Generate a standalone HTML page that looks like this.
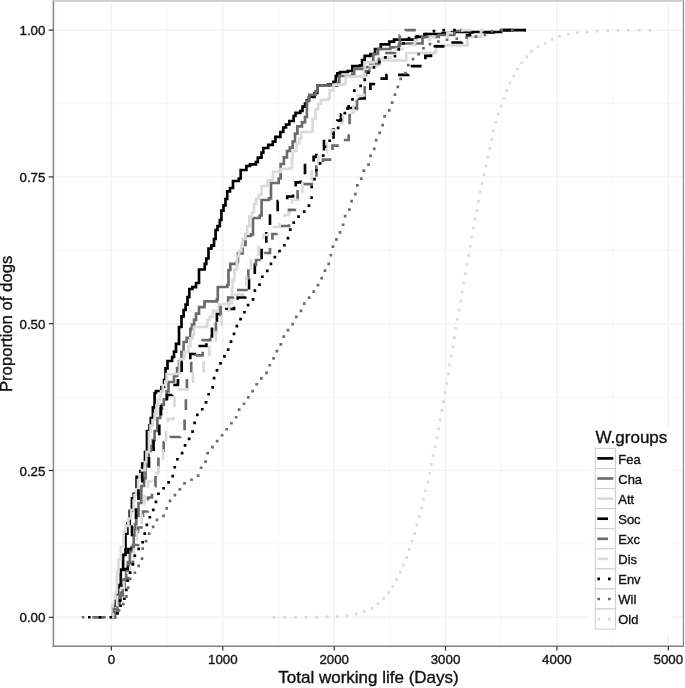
<!DOCTYPE html>
<html lang="en"><head><meta charset="utf-8"><title>Total working life ECDF</title>
<style>html,body{margin:0;padding:0;background:#fff}body{width:685px;height:688px;overflow:hidden}svg{display:block}</style>
</head><body>
<svg width="685" height="688" viewBox="0 0 685 688" font-family="'Liberation Sans', Arial, Helvetica, sans-serif"><style>text{stroke:#111;stroke-width:0.35px}</style>
<rect x="0" y="0" width="685" height="688" fill="#ffffff"/>
<g><line x1="55.7" x2="55.7" y1="0.9" y2="646.3" stroke="#f9f9f9" stroke-width="1.4"/><line x1="167.1" x2="167.1" y1="0.9" y2="646.3" stroke="#f9f9f9" stroke-width="1.4"/><line x1="278.5" x2="278.5" y1="0.9" y2="646.3" stroke="#f9f9f9" stroke-width="1.4"/><line x1="389.9" x2="389.9" y1="0.9" y2="646.3" stroke="#f9f9f9" stroke-width="1.4"/><line x1="501.2" x2="501.2" y1="0.9" y2="646.3" stroke="#f9f9f9" stroke-width="1.4"/><line x1="612.6" x2="612.6" y1="0.9" y2="646.3" stroke="#f9f9f9" stroke-width="1.4"/><line x1="53.4" x2="683.3" y1="543.9" y2="543.9" stroke="#f9f9f9" stroke-width="1.4"/><line x1="53.4" x2="683.3" y1="397.1" y2="397.1" stroke="#f9f9f9" stroke-width="1.4"/><line x1="53.4" x2="683.3" y1="250.3" y2="250.3" stroke="#f9f9f9" stroke-width="1.4"/><line x1="53.4" x2="683.3" y1="103.5" y2="103.5" stroke="#f9f9f9" stroke-width="1.4"/><line x1="111.4" x2="111.4" y1="0.9" y2="646.3" stroke="#f2f2f2" stroke-width="1.4"/><line x1="222.8" x2="222.8" y1="0.9" y2="646.3" stroke="#f2f2f2" stroke-width="1.4"/><line x1="334.2" x2="334.2" y1="0.9" y2="646.3" stroke="#f2f2f2" stroke-width="1.4"/><line x1="445.5" x2="445.5" y1="0.9" y2="646.3" stroke="#f2f2f2" stroke-width="1.4"/><line x1="556.9" x2="556.9" y1="0.9" y2="646.3" stroke="#f2f2f2" stroke-width="1.4"/><line x1="668.3" x2="668.3" y1="0.9" y2="646.3" stroke="#f2f2f2" stroke-width="1.4"/><line x1="53.4" x2="683.3" y1="617.3" y2="617.3" stroke="#f2f2f2" stroke-width="1.4"/><line x1="53.4" x2="683.3" y1="470.5" y2="470.5" stroke="#f2f2f2" stroke-width="1.4"/><line x1="53.4" x2="683.3" y1="323.7" y2="323.7" stroke="#f2f2f2" stroke-width="1.4"/><line x1="53.4" x2="683.3" y1="176.9" y2="176.9" stroke="#f2f2f2" stroke-width="1.4"/><line x1="53.4" x2="683.3" y1="30.1" y2="30.1" stroke="#f2f2f2" stroke-width="1.4"/></g>
<path d="M110.0 617.3L112.0 617.3L112.0 617.3L113.2 617.3L113.2 605.7L115.8 605.7L115.8 598.3L118.0 598.3L118.0 585.0L120.8 585.0L120.8 569.7L123.1 569.7L123.1 554.9L125.5 554.9L125.5 533.6L127.4 533.6L127.4 523.7L129.7 523.7L129.7 510.9L131.9 510.9L131.9 498.4L133.7 498.4L133.7 493.8L136.6 493.8L136.6 476.8L140.4 476.8L140.4 471.0L142.2 471.0L142.2 463.7L145.0 463.7L145.0 452.0L147.0 452.0L147.0 431.0L149.5 431.0L149.5 425.3L150.8 425.3L150.8 418.0L152.9 418.0L152.9 407.3L154.6 407.3L154.6 393.0L156.0 393.0L156.0 391.0L161.5 391.0L161.5 387.0L164.0 387.0L164.0 380.0L165.5 380.0L165.5 368.4L167.5 368.4L167.5 361.0L172.1 361.0L172.1 357.0L174.0 357.0L174.0 351.6L176.0 351.6L176.0 343.8L179.0 343.8L179.0 327.0L181.5 327.0L181.5 316.3L183.6 316.3L183.6 310.0L185.6 310.0L185.6 304.6L187.5 304.6L187.5 297.1L189.3 297.1L189.3 289.0L192.4 289.0L192.4 287.1L196.0 287.1L196.0 283.0L199.0 283.0L199.0 269.5L204.7 269.5L204.7 263.8L206.3 263.8L206.3 258.5L208.5 258.5L208.5 248.7L211.4 248.7L211.4 245.7L214.0 245.7L214.0 239.0L215.6 239.0L215.6 230.0L217.5 230.0L217.5 226.2L219.8 226.2L219.8 220.0L221.4 220.0L221.4 210.6L223.5 210.6L223.5 205.3L225.5 205.3L225.5 199.0L227.2 199.0L227.2 191.4L230.0 191.4L230.0 188.0L233.0 188.0L233.0 181.0L238.8 181.0L238.8 178.5L240.7 178.5L240.7 170.0L246.4 170.0L246.4 166.0L250.0 166.0L250.0 164.4L255.9 164.4L255.9 162.0L257.8 162.0L257.8 157.6L261.5 157.6L261.5 152.6L263.3 152.6L263.3 148.0L268.2 148.0L268.2 144.8L272.8 144.8L272.8 141.6L275.4 141.6L275.4 136.8L280.4 136.8L280.4 132.0L283.3 132.0L283.3 127.5L286.0 127.5L286.0 124.5L289.3 124.5L289.3 121.0L293.6 121.0L293.6 116.0L295.5 116.0L295.5 112.8L300.3 112.8L300.3 111.0L302.5 111.0L302.5 106.7L305.0 106.7L305.0 103.6L306.8 103.6L306.8 100.3L308.8 100.3L308.8 97.0L314.5 97.0L314.5 93.0L317.4 93.0L317.4 85.6L328.1 85.6L328.1 84.6L333.5 84.6L333.5 81.8L335.8 81.8L335.8 76.2L337.3 76.2L337.3 73.3L340.0 73.3L340.0 72.0L347.6 72.0L347.6 71.0L352.3 71.0L352.3 66.2L360.0 66.2L360.0 65.3L362.1 65.3L362.1 60.2L364.7 60.2L364.7 55.8L370.4 55.8L370.4 54.0L375.0 54.0L375.0 49.0L380.8 49.0L380.8 44.4L389.3 44.4L389.3 41.6L394.0 41.6L394.0 39.7L404.5 39.7L404.5 39.7L416.0 39.7L416.0 36.8L424.4 36.8L424.4 34.0L442.5 34.0L442.5 33.0L452.0 33.0L452.0 32.0L470.0 32.0L470.0 32.0L497.0 32.0L497.0 32.0L501.0 32.0L501.0 30.1L526.0 30.1L526.0 30.1" fill="none" stroke="#000000" stroke-width="2.67" stroke-linejoin="miter" stroke-linecap="butt"/>
<path d="M111.0 617.3L113.0 617.3L113.0 617.3L115.0 617.3L115.0 612.0L117.4 612.0L117.4 604.1L119.5 604.1L119.5 599.8L120.8 599.8L120.8 592.5L122.7 592.5L122.7 587.0L124.6 587.0L124.6 579.0L126.2 579.0L126.2 571.6L128.0 571.6L128.0 562.0L129.9 562.0L129.9 551.1L131.5 551.1L131.5 547.0L133.7 547.0L133.7 535.3L135.0 535.3L135.0 524.0L136.3 524.0L136.3 515.9L138.5 515.9L138.5 503.0L141.3 503.0L141.3 486.0L144.1 486.0L144.1 478.5L145.5 478.5L145.5 465.9L147.0 465.9L147.0 456.0L148.6 456.0L148.6 450.8L150.8 450.8L150.8 446.4L152.8 446.4L152.8 440.1L154.6 440.1L154.6 431.0L157.4 431.0L157.4 418.0L160.2 418.0L160.2 408.6L162.0 408.6L162.0 404.7L163.9 404.7L163.9 399.4L166.6 399.4L166.6 391.4L168.5 391.4L168.5 382.0L174.0 382.0L174.0 376.0L177.1 376.0L177.1 368.2L179.0 368.2L179.0 361.0L181.4 361.0L181.4 351.9L183.6 351.9L183.6 342.0L186.7 342.0L186.7 337.8L190.3 337.8L190.3 328.8L192.0 328.8L192.0 324.6L194.1 324.6L194.1 319.9L196.0 319.9L196.0 313.6L199.0 313.6L199.0 307.2L204.5 307.2L204.5 301.3L216.9 301.3L216.9 299.4L217.8 299.4L217.8 287.0L227.3 287.0L227.3 285.0L228.5 285.0L228.5 270.0L230.3 270.0L230.3 263.8L236.9 263.8L236.9 262.0L237.9 262.0L237.9 253.4L242.6 253.4L242.6 244.9L245.5 244.9L245.5 236.0L251.0 236.0L251.0 234.4L253.0 234.4L253.0 218.0L259.7 218.0L259.7 215.5L261.6 215.5L261.6 200.0L269.0 200.0L269.0 198.4L271.0 198.4L271.0 183.0L278.7 183.0L278.7 178.5L280.6 178.5L280.6 164.0L283.9 164.0L283.9 157.3L287.0 157.3L287.0 151.0L289.8 151.0L289.8 147.7L292.7 147.7L292.7 141.6L295.0 141.6L295.0 133.7L297.4 133.7L297.4 126.4L302.0 126.4L302.0 122.3L305.0 122.3L305.0 117.0L306.9 117.0L306.9 100.8L309.3 100.8L309.3 94.8L315.5 94.8L315.5 91.3L317.4 91.3L317.4 85.6L337.3 85.6L337.3 82.8L339.2 82.8L339.2 76.0L352.3 76.0L352.3 73.8L354.2 73.8L354.2 69.0L363.7 69.0L363.7 67.2L370.4 67.2L370.4 63.4L373.2 63.4L373.2 54.0L378.0 54.0L378.0 49.0L390.3 49.0L390.3 47.3L398.8 47.3L398.8 45.4L400.0 45.4L400.0 43.5L421.6 43.5L421.6 43.5L422.5 43.5L422.5 36.8L438.7 36.8L438.7 35.0L453.9 35.0L453.9 34.0L454.5 34.0L454.5 31.0L461.4 31.0L461.4 30.1L462.5 30.1L462.5 30.1" fill="none" stroke="#6b6b6b" stroke-width="2.67" stroke-linejoin="miter" stroke-linecap="butt"/>
<path d="M110.0 617.3L112.0 617.3L112.0 617.3L113.0 617.3L113.0 604.0L115.2 604.0L115.2 592.5L117.0 592.5L117.0 571.6L118.4 571.6L118.4 559.5L120.8 559.5L120.8 547.0L123.6 547.0L123.6 531.7L125.8 531.7L125.8 525.9L128.4 525.9L128.4 518.5L131.0 518.5L131.0 510.0L133.6 510.0L133.6 500.5L134.5 500.5L134.5 495.0L136.3 495.0L136.3 489.3L138.0 489.3L138.0 480.0L139.5 480.0L139.5 474.3L142.0 474.3L142.0 470.0L144.9 470.0L144.9 462.0L146.5 462.0L146.5 452.0L149.0 452.0L149.0 432.0L150.5 432.0L150.5 425.5L152.5 425.5L152.5 420.0L154.6 420.0L154.6 413.9L156.5 413.9L156.5 405.0L158.0 405.0L158.0 399.5L160.0 399.5L160.0 396.0L161.0 396.0L161.0 391.4L162.8 391.4L162.8 385.0L165.3 385.0L165.3 381.5L166.6 381.5L166.6 374.0L179.0 374.0L179.0 373.4L179.8 373.4L179.8 359.0L184.3 359.0L184.3 352.1L188.4 352.1L188.4 346.0L190.4 346.0L190.4 338.4L192.5 338.4L192.5 334.8L194.0 334.8L194.0 327.0L206.4 327.0L206.4 326.0L207.4 326.0L207.4 320.0L209.8 320.0L209.8 316.8L213.0 316.8L213.0 310.8L218.7 310.8L218.7 304.0L229.0 304.0L229.0 303.0L232.0 303.0L232.0 289.0L232.6 289.0L232.6 280.0L234.3 280.0L234.3 269.6L237.0 269.6L237.0 256.0L239.1 256.0L239.1 251.1L241.3 251.1L241.3 246.5L242.6 246.5L242.6 239.0L245.5 239.0L245.5 233.5L247.3 233.5L247.3 226.2L249.3 226.2L249.3 216.4L252.1 216.4L252.1 212.0L254.0 212.0L254.0 204.0L256.1 204.0L256.1 198.8L258.7 198.8L258.7 194.6L261.6 194.6L261.6 186.0L267.5 186.0L267.5 180.4L273.0 180.4L273.0 171.8L280.6 171.8L280.6 169.0L290.0 169.0L290.0 168.0L292.0 168.0L292.0 157.6L292.7 157.6L292.7 151.0L296.5 151.0L296.5 143.5L299.3 143.5L299.3 138.5L301.2 138.5L301.2 132.0L311.7 132.0L311.7 131.0L312.6 131.0L312.6 118.8L315.5 118.8L315.5 109.3L318.1 109.3L318.1 103.8L321.0 103.8L321.0 99.8L328.7 99.8L328.7 98.0L329.7 98.0L329.7 90.4L333.5 90.4L333.5 84.7L343.9 84.7L343.9 83.7L345.7 83.7L345.7 76.7L362.8 76.7L362.8 75.7L364.7 75.7L364.7 62.4L377.0 62.4L377.0 60.5L405.5 60.5L405.5 60.5L406.4 60.5L406.4 53.0L434.9 53.0L434.9 52.0L435.8 52.0L435.8 45.4L466.2 45.4L466.2 45.4L467.5 45.4L467.5 36.8L480.0 36.8L480.0 36.8L481.0 36.8L481.0 30.1L484.0 30.1L484.0 30.1" fill="none" stroke="#dadada" stroke-width="2.67" stroke-linejoin="miter" stroke-linecap="butt"/>
<path d="M111.0 617.3L112.0 617.3L112.0 617.3L113.0 617.3L113.0 612.6L116.0 612.6L116.0 608.0L116.0 601.0L120.0 601.0L120.0 594.0L120.0 586.0L124.0 586.0L124.0 578.0L124.0 569.0L128.0 569.0L128.0 560.0L128.0 549.0L132.0 549.0L132.0 538.0L132.0 526.5L136.0 526.5L136.0 515.0L136.0 506.0L138.5 506.0L138.5 497.0L138.5 487.5L142.3 487.5L142.3 478.0L142.3 470.0L149.0 470.0L149.0 462.0L149.0 454.0L153.6 454.0L153.6 446.0L153.6 437.5L159.3 437.5L159.3 429.0L159.3 419.5L161.0 419.5L161.0 410.0L161.0 402.5L167.0 402.5L167.0 395.0L172.2 395.0L172.2 385.0L177.4 385.0L177.4 384.5L178.0 384.5L178.0 384.0L178.0 374.5L181.7 374.5L181.7 365.0L181.7 359.5L190.3 359.5L190.3 354.0L194.6 354.0L194.6 346.0L198.8 346.0L202.6 346.0L202.6 346.0L206.4 346.0L206.4 343.0L206.4 343.0L206.4 340.0L206.4 336.5L212.0 336.5L212.0 333.0L212.0 326.0L216.9 326.0L216.9 319.0L216.9 314.0L226.3 314.0L226.3 309.0L230.2 309.0L230.2 309.0L234.0 309.0L234.0 303.2L237.7 303.2L237.7 297.5L241.5 297.5L241.5 297.5L245.3 297.5L245.3 290.2L249.0 290.2L249.0 283.0L249.0 277.2L254.8 277.2L254.8 271.5L254.8 262.2L261.6 262.2L261.6 253.0L261.6 244.8L266.3 244.8L266.3 236.7L266.3 228.2L270.0 228.2L270.0 219.7L270.0 212.8L277.7 212.8L277.7 206.0L277.7 201.2L287.2 201.2L287.2 196.5L290.1 196.5L290.1 196.5L293.0 196.5L293.0 189.4L295.7 189.4L295.7 182.3L298.1 182.3L298.1 182.3L300.5 182.3L300.5 176.2L305.0 176.2L305.0 170.0L305.0 163.4L313.6 163.4L313.6 156.8L315.0 156.8L315.0 156.8L316.4 156.8L316.4 151.9L324.0 151.9L324.0 147.0L324.0 139.5L333.5 139.5L333.5 132.0L333.5 126.3L337.3 126.3L337.3 120.7L339.1 120.7L339.1 120.7L341.0 120.7L341.0 114.3L347.6 114.3L347.6 108.0L351.3 108.0L351.3 108.0L355.0 108.0L355.0 103.2L359.0 103.2L359.0 98.5L361.9 98.5L361.9 98.5L364.7 98.5L364.7 91.2L370.4 91.2L370.4 84.0L376.0 84.0L376.0 78.6L381.7 78.6L384.1 78.6L384.1 78.6L386.5 78.6L386.5 76.8L386.5 76.8L386.5 75.0L392.6 75.0L392.6 74.8L398.8 74.8L403.6 74.8L403.6 74.8L408.3 74.8L408.3 70.5L412.0 70.5L412.0 66.2L416.8 66.2L416.8 66.2L421.6 66.2L421.6 61.0L425.4 61.0L425.4 55.8L428.2 55.8L428.2 55.8L431.0 55.8L431.0 51.0L434.9 51.0L434.9 46.3L439.1 46.3L439.1 46.3L443.4 46.3L447.7 46.3L447.7 42.5L452.0 42.5L454.4 42.5L454.4 42.5L456.7 42.5L461.9 42.5L461.9 37.8L467.0 37.8L467.0 35.1L470.0 35.1L470.0 32.5L483.5 32.5L483.5 32.5L497.0 32.5L498.5 32.5L498.5 30.1L500.0 30.1L513.0 30.1L513.0 30.1L526.0 30.1" fill="none" stroke="#000000" stroke-width="2.67" stroke-linejoin="miter" stroke-linecap="butt" stroke-dasharray="10.7 10.7" stroke-dashoffset="5.05"/>
<path d="M93.4 617.3L103.2 617.3L103.2 617.3L113.0 617.3L113.0 616.1L114.0 616.1L114.0 615.0L114.0 609.0L118.0 609.0L118.0 603.0L118.0 595.5L123.0 595.5L123.0 588.0L123.0 580.0L128.0 580.0L128.0 572.0L128.0 563.5L133.0 563.5L133.0 555.0L133.0 545.0L138.0 545.0L138.0 535.0L138.0 527.5L143.0 527.5L143.0 520.0L143.0 511.5L148.0 511.5L148.0 503.0L148.0 497.5L152.0 497.5L152.0 492.0L152.0 486.5L155.5 486.5L155.5 481.0L155.5 471.5L158.4 471.5L158.4 462.0L158.4 454.5L163.7 454.5L163.7 447.0L163.7 442.0L170.7 442.0L170.7 437.0L175.4 437.0L175.4 437.0L180.2 437.0L180.2 430.8L184.6 430.8L184.6 424.5L184.6 414.8L185.9 414.8L185.9 405.0L185.9 395.0L186.9 395.0L186.9 385.0L186.9 376.5L191.2 376.5L191.2 368.0L191.2 361.7L196.0 361.7L196.0 355.4L199.3 355.4L199.3 355.4L202.6 355.4L202.6 347.8L202.6 347.8L202.6 340.2L206.4 340.2L206.4 340.2L210.2 340.2L210.2 334.1L215.9 334.1L215.9 328.0L215.9 319.5L220.6 319.5L220.6 311.0L220.6 304.2L228.2 304.2L228.2 297.5L232.9 297.5L232.9 290.0L237.7 290.0L242.9 290.0L242.9 290.0L248.2 290.0L248.2 283.8L248.3 283.8L248.3 277.5L248.3 268.8L256.0 268.8L256.0 260.0L263.0 260.0L263.0 253.0L270.0 253.0L270.0 243.5L272.4 243.5L272.4 234.0L276.5 234.0L276.5 226.0L280.6 226.0L284.8 226.0L284.8 226.0L289.0 226.0L289.0 217.9L289.0 217.9L289.0 209.8L291.9 209.8L291.9 209.8L294.8 209.8L294.8 202.7L297.6 202.7L297.6 195.5L297.6 184.2L316.4 184.2L316.4 173.0L316.4 166.3L323.0 166.3L323.0 159.6L327.3 159.6L327.3 159.6L331.6 159.6L331.6 152.6L332.5 152.6L332.5 145.7L340.6 145.7L340.6 140.0L348.7 140.0L348.7 129.5L349.6 129.5L349.6 119.0L349.6 112.0L357.0 112.0L357.0 105.0L357.0 98.0L364.7 98.0L364.7 91.0L364.7 81.2L366.0 81.2L366.0 71.4L367.7 71.4L367.7 71.0L369.4 71.0L369.4 64.0L379.0 64.0L379.0 57.0L383.2 57.0L383.2 53.0L387.4 53.0L391.2 53.0L391.2 53.0L395.0 53.0L395.0 47.0L399.8 47.0L399.8 41.0L399.8 35.5L405.5 35.5L405.5 30.1L410.8 30.1L410.8 30.1L416.0 30.1" fill="none" stroke="#6b6b6b" stroke-width="2.67" stroke-linejoin="miter" stroke-linecap="butt" stroke-dasharray="10.7 10.7" stroke-dashoffset="-0.15"/>
<path d="M111.0 617.3L112.0 617.3L112.0 617.3L113.0 617.3L113.0 606.6L117.0 606.6L117.0 596.0L117.0 588.0L124.0 588.0L124.0 580.0L124.0 573.0L130.3 573.0L130.3 566.0L130.3 558.0L134.0 558.0L134.0 550.0L134.0 542.8L137.0 542.8L137.0 535.5L137.0 527.0L141.7 527.0L141.7 518.5L141.7 509.0L144.5 509.0L144.5 499.5L144.5 490.5L148.0 490.5L148.0 481.5L153.2 481.5L153.2 473.0L158.4 473.0L158.4 464.5L163.0 464.5L163.0 456.0L163.0 446.0L166.0 446.0L166.0 436.0L166.0 427.5L168.0 427.5L168.0 419.0L170.8 419.0L170.8 419.0L173.6 419.0L173.6 410.5L174.5 410.5L174.5 402.0L174.5 395.8L179.0 395.8L179.0 389.5L183.2 389.5L183.2 389.5L187.4 389.5L187.4 383.2L193.0 383.2L193.0 377.0L193.0 371.5L203.6 371.5L203.6 366.0L203.6 358.5L209.3 358.5L209.3 351.0L209.3 343.5L215.9 343.5L215.9 336.0L215.9 328.5L221.6 328.5L221.6 321.0L221.6 314.0L229.2 314.0L229.2 307.0L229.2 300.9L234.9 300.9L234.9 294.7L239.2 294.7L239.2 294.7L243.4 294.7L243.4 287.9L246.3 287.9L246.3 281.0L246.3 273.0L251.0 273.0L251.0 265.0L251.0 256.5L258.7 256.5L258.7 248.0L258.7 241.5L263.5 241.5L263.5 235.0L268.2 235.0L268.2 227.0L273.0 227.0L276.3 227.0L276.3 227.0L279.6 227.0L279.6 224.5L279.6 224.5L279.6 222.0L284.3 222.0L284.3 215.0L289.0 215.0L289.0 207.5L292.0 207.5L292.0 200.0L295.3 200.0L295.3 200.0L298.6 200.0L298.6 193.5L302.4 193.5L302.4 187.0L302.4 180.5L311.7 180.5L311.7 174.0L311.7 166.3L318.3 166.3L318.3 158.7L318.3 152.8L326.9 152.8L326.9 147.0L326.9 138.5L331.6 138.5L331.6 130.0L337.3 130.0L337.3 123.0L343.0 123.0L343.0 113.0L353.4 113.0L353.4 103.0L353.4 99.2L358.0 99.2L358.0 95.5L360.9 95.5L360.9 95.5L363.9 95.5L363.9 86.8L364.8 86.8L364.8 78.0L364.8 72.1L368.5 72.1L368.5 66.2L374.2 66.2L374.2 66.2L380.0 66.2L380.0 57.6L396.0 57.6L396.0 49.0L403.0 49.0L403.0 45.0L410.0 45.0L415.0 45.0L415.0 40.0L420.0 40.0L430.0 40.0L430.0 37.0L440.0 37.0L447.5 37.0L447.5 33.0L455.0 33.0L462.5 33.0L462.5 30.1L470.0 30.1L473.0 30.1L473.0 30.1L476.0 30.1" fill="none" stroke="#dadada" stroke-width="2.67" stroke-linejoin="miter" stroke-linecap="butt" stroke-dasharray="10.7 10.7" stroke-dashoffset="4.55"/>
<path d="M88.0 615.9h2.7v2.7h-2.7zM98.7 615.9h2.7v2.7h-2.7zM109.4 615.9h2.7v2.7h-2.7zM116.1 612.0h2.7v2.7h-2.7zM119.2 604.4h2.7v2.7h-2.7zM123.0 597.4h2.7v2.7h-2.7zM124.9 588.6h2.7v2.7h-2.7zM126.3 579.4h2.7v2.7h-2.7zM128.8 571.2h2.7v2.7h-2.7zM131.5 563.1h2.7v2.7h-2.7zM133.5 554.4h2.7v2.7h-2.7zM137.3 547.6h2.7v2.7h-2.7zM141.3 540.9h2.7v2.7h-2.7zM143.4 532.3h2.7v2.7h-2.7zM145.5 523.6h2.7v2.7h-2.7zM148.5 515.9h2.7v2.7h-2.7zM151.9 508.6h2.7v2.7h-2.7zM154.6 500.6h2.7v2.7h-2.7zM157.1 492.4h2.7v2.7h-2.7zM162.3 486.9h2.7v2.7h-2.7zM167.2 481.1h2.7v2.7h-2.7zM171.4 474.7h2.7v2.7h-2.7zM173.4 465.9h2.7v2.7h-2.7zM176.1 457.9h2.7v2.7h-2.7zM180.7 451.8h2.7v2.7h-2.7zM183.7 444.1h2.7v2.7h-2.7zM187.8 437.5h2.7v2.7h-2.7zM191.2 430.2h2.7v2.7h-2.7zM193.2 421.6h2.7v2.7h-2.7zM196.0 413.6h2.7v2.7h-2.7zM200.9 407.9h2.7v2.7h-2.7zM204.7 401.0h2.7v2.7h-2.7zM207.3 392.9h2.7v2.7h-2.7zM211.3 386.1h2.7v2.7h-2.7zM212.7 376.8h2.7v2.7h-2.7zM215.6 369.0h2.7v2.7h-2.7zM219.2 362.0h2.7v2.7h-2.7zM223.1 355.1h2.7v2.7h-2.7zM226.8 348.2h2.7v2.7h-2.7zM229.7 340.3h2.7v2.7h-2.7zM232.7 332.6h2.7v2.7h-2.7zM235.5 324.7h2.7v2.7h-2.7zM239.2 317.8h2.7v2.7h-2.7zM243.1 310.9h2.7v2.7h-2.7zM246.7 303.8h2.7v2.7h-2.7zM251.7 298.1h2.7v2.7h-2.7zM253.5 289.2h2.7v2.7h-2.7zM258.1 283.2h2.7v2.7h-2.7zM261.0 275.4h2.7v2.7h-2.7zM265.9 269.6h2.7v2.7h-2.7zM269.6 262.6h2.7v2.7h-2.7zM273.5 255.8h2.7v2.7h-2.7zM278.2 249.8h2.7v2.7h-2.7zM283.0 243.9h2.7v2.7h-2.7zM286.6 236.8h2.7v2.7h-2.7zM288.9 228.3h2.7v2.7h-2.7zM292.4 221.2h2.7v2.7h-2.7zM297.2 215.3h2.7v2.7h-2.7zM302.9 210.3h2.7v2.7h-2.7zM307.6 204.3h2.7v2.7h-2.7zM310.3 196.3h2.7v2.7h-2.7zM310.3 185.6h2.7v2.7h-2.7zM313.1 177.7h2.7v2.7h-2.7zM315.0 168.9h2.7v2.7h-2.7zM318.8 162.0h2.7v2.7h-2.7zM321.9 154.3h2.7v2.7h-2.7zM323.6 145.4h2.7v2.7h-2.7zM328.3 139.4h2.7v2.7h-2.7zM332.1 132.5h2.7v2.7h-2.7zM336.8 126.5h2.7v2.7h-2.7zM339.6 118.6h2.7v2.7h-2.7zM343.5 111.8h2.7v2.7h-2.7zM347.3 104.9h2.7v2.7h-2.7zM351.1 98.0h2.7v2.7h-2.7zM353.0 89.2h2.7v2.7h-2.7zM359.2 84.6h2.7v2.7h-2.7zM363.4 78.2h2.7v2.7h-2.7zM367.1 71.2h2.7v2.7h-2.7zM372.6 66.0h2.7v2.7h-2.7zM378.1 60.7h2.7v2.7h-2.7zM384.1 56.1h2.7v2.7h-2.7zM393.6 54.9h2.7v2.7h-2.7zM397.4 48.0h2.7v2.7h-2.7zM402.3 42.1h2.7v2.7h-2.7zM407.6 36.8h2.7v2.7h-2.7zM416.4 34.9h2.7v2.7h-2.7zM424.9 32.7h2.7v2.7h-2.7zM432.6 29.7h2.7v2.7h-2.7zM442.4 28.8h2.7v2.7h-2.7zM453.1 28.8h2.7v2.7h-2.7z" fill="#000000" stroke="none"/>
<path d="M81.7 615.9h2.7v2.7h-2.7zM92.4 615.9h2.7v2.7h-2.7zM103.1 615.9h2.7v2.7h-2.7zM113.8 615.9h2.7v2.7h-2.7zM117.7 609.1h2.7v2.7h-2.7zM121.9 602.7h2.7v2.7h-2.7zM125.1 595.1h2.7v2.7h-2.7zM126.8 586.2h2.7v2.7h-2.7zM128.8 577.5h2.7v2.7h-2.7zM133.5 571.4h2.7v2.7h-2.7zM137.3 564.6h2.7v2.7h-2.7zM140.7 557.2h2.7v2.7h-2.7zM141.3 547.2h2.7v2.7h-2.7zM144.7 539.8h2.7v2.7h-2.7zM147.8 532.2h2.7v2.7h-2.7zM151.8 525.5h2.7v2.7h-2.7zM155.6 518.6h2.7v2.7h-2.7zM162.2 514.5h2.7v2.7h-2.7zM165.3 507.0h2.7v2.7h-2.7zM168.7 499.6h2.7v2.7h-2.7zM173.6 493.8h2.7v2.7h-2.7zM178.5 488.1h2.7v2.7h-2.7zM183.2 482.0h2.7v2.7h-2.7zM190.2 478.4h2.7v2.7h-2.7zM196.8 474.3h2.7v2.7h-2.7zM199.7 466.4h2.7v2.7h-2.7zM204.3 460.3h2.7v2.7h-2.7zM206.3 451.7h2.7v2.7h-2.7zM211.2 445.8h2.7v2.7h-2.7zM215.8 439.8h2.7v2.7h-2.7zM220.7 433.9h2.7v2.7h-2.7zM225.3 427.9h2.7v2.7h-2.7zM230.1 421.9h2.7v2.7h-2.7zM234.8 415.9h2.7v2.7h-2.7zM237.8 408.3h2.7v2.7h-2.7zM242.7 402.4h2.7v2.7h-2.7zM247.0 396.1h2.7v2.7h-2.7zM251.3 389.7h2.7v2.7h-2.7zM255.3 382.9h2.7v2.7h-2.7zM260.0 377.0h2.7v2.7h-2.7zM265.2 371.5h2.7v2.7h-2.7zM268.4 363.9h2.7v2.7h-2.7zM272.2 357.1h2.7v2.7h-2.7zM275.6 349.7h2.7v2.7h-2.7zM279.5 343.0h2.7v2.7h-2.7zM282.4 335.2h2.7v2.7h-2.7zM286.6 328.7h2.7v2.7h-2.7zM291.4 322.8h2.7v2.7h-2.7zM295.0 315.6h2.7v2.7h-2.7zM299.6 309.5h2.7v2.7h-2.7zM303.0 302.3h2.7v2.7h-2.7zM307.7 296.2h2.7v2.7h-2.7zM312.4 290.3h2.7v2.7h-2.7zM316.6 283.8h2.7v2.7h-2.7zM320.3 276.7h2.7v2.7h-2.7zM323.6 269.3h2.7v2.7h-2.7zM327.4 262.5h2.7v2.7h-2.7zM329.5 253.9h2.7v2.7h-2.7zM331.6 245.3h2.7v2.7h-2.7zM335.1 238.1h2.7v2.7h-2.7zM338.7 231.0h2.7v2.7h-2.7zM341.8 223.4h2.7v2.7h-2.7zM343.8 214.7h2.7v2.7h-2.7zM348.0 208.2h2.7v2.7h-2.7zM350.2 199.7h2.7v2.7h-2.7zM353.9 192.7h2.7v2.7h-2.7zM356.0 184.1h2.7v2.7h-2.7zM359.9 177.2h2.7v2.7h-2.7zM362.5 169.2h2.7v2.7h-2.7zM367.2 163.2h2.7v2.7h-2.7zM369.2 154.5h2.7v2.7h-2.7zM372.9 147.5h2.7v2.7h-2.7zM374.8 138.7h2.7v2.7h-2.7zM378.4 131.6h2.7v2.7h-2.7zM381.3 123.8h2.7v2.7h-2.7zM383.2 115.0h2.7v2.7h-2.7zM387.9 109.0h2.7v2.7h-2.7zM390.8 101.2h2.7v2.7h-2.7zM393.6 93.3h2.7v2.7h-2.7zM396.5 85.5h2.7v2.7h-2.7zM399.3 77.6h2.7v2.7h-2.7zM404.1 71.7h2.7v2.7h-2.7zM406.9 63.8h2.7v2.7h-2.7zM411.6 57.8h2.7v2.7h-2.7zM417.3 52.8h2.7v2.7h-2.7zM422.1 46.9h2.7v2.7h-2.7zM428.6 42.7h2.7v2.7h-2.7zM437.0 40.3h2.7v2.7h-2.7zM445.7 38.4h2.7v2.7h-2.7zM455.4 37.4h2.7v2.7h-2.7zM465.2 36.4h2.7v2.7h-2.7zM474.6 35.2h2.7v2.7h-2.7zM483.6 33.5h2.7v2.7h-2.7zM490.6 29.8h2.7v2.7h-2.7zM500.3 28.8h2.7v2.7h-2.7zM511.0 28.8h2.7v2.7h-2.7z" fill="#6b6b6b" stroke="none"/>
<path d="M272.6 615.9h2.7v2.7h-2.7zM283.3 615.9h2.7v2.7h-2.7zM294.0 615.9h2.7v2.7h-2.7zM304.6 615.9h2.7v2.7h-2.7zM315.3 615.8h2.7v2.7h-2.7zM325.8 615.6h2.7v2.7h-2.7zM336.0 615.2h2.7v2.7h-2.7zM345.8 614.3h2.7v2.7h-2.7zM354.9 612.7h2.7v2.7h-2.7zM363.1 610.2h2.7v2.7h-2.7zM370.3 606.7h2.7v2.7h-2.7zM376.6 602.3h2.7v2.7h-2.7zM382.2 597.1h2.7v2.7h-2.7zM387.1 591.3h2.7v2.7h-2.7zM391.5 585.0h2.7v2.7h-2.7zM395.3 578.2h2.7v2.7h-2.7zM398.9 571.0h2.7v2.7h-2.7zM402.2 563.7h2.7v2.7h-2.7zM405.3 556.1h2.7v2.7h-2.7zM408.0 548.1h2.7v2.7h-2.7zM410.7 540.0h2.7v2.7h-2.7zM413.3 532.0h2.7v2.7h-2.7zM415.6 523.6h2.7v2.7h-2.7zM418.0 515.3h2.7v2.7h-2.7zM420.2 506.8h2.7v2.7h-2.7zM422.2 498.1h2.7v2.7h-2.7zM424.3 489.4h2.7v2.7h-2.7zM426.3 480.7h2.7v2.7h-2.7zM428.3 472.0h2.7v2.7h-2.7zM430.0 463.1h2.7v2.7h-2.7zM431.8 454.2h2.7v2.7h-2.7zM433.6 445.3h2.7v2.7h-2.7zM435.4 436.4h2.7v2.7h-2.7zM437.2 427.4h2.7v2.7h-2.7zM438.7 418.3h2.7v2.7h-2.7zM440.5 409.3h2.7v2.7h-2.7zM442.1 400.3h2.7v2.7h-2.7zM443.6 391.1h2.7v2.7h-2.7zM445.2 382.0h2.7v2.7h-2.7zM446.8 372.8h2.7v2.7h-2.7zM448.3 363.7h2.7v2.7h-2.7zM449.9 354.6h2.7v2.7h-2.7zM451.4 345.4h2.7v2.7h-2.7zM453.0 336.3h2.7v2.7h-2.7zM454.5 327.1h2.7v2.7h-2.7zM456.1 318.0h2.7v2.7h-2.7zM457.7 308.8h2.7v2.7h-2.7zM459.2 299.7h2.7v2.7h-2.7zM460.8 290.6h2.7v2.7h-2.7zM462.3 281.4h2.7v2.7h-2.7zM463.9 272.3h2.7v2.7h-2.7zM465.5 263.1h2.7v2.7h-2.7zM467.1 254.1h2.7v2.7h-2.7zM468.8 245.1h2.7v2.7h-2.7zM470.4 235.9h2.7v2.7h-2.7zM472.0 226.8h2.7v2.7h-2.7zM473.7 217.9h2.7v2.7h-2.7zM475.5 209.0h2.7v2.7h-2.7zM477.1 199.9h2.7v2.7h-2.7zM478.8 190.9h2.7v2.7h-2.7zM480.8 182.2h2.7v2.7h-2.7zM482.6 173.3h2.7v2.7h-2.7zM484.5 164.5h2.7v2.7h-2.7zM486.4 155.7h2.7v2.7h-2.7zM488.4 147.0h2.7v2.7h-2.7zM490.3 138.2h2.7v2.7h-2.7zM492.2 129.4h2.7v2.7h-2.7zM494.4 120.9h2.7v2.7h-2.7zM496.9 112.7h2.7v2.7h-2.7zM499.6 104.6h2.7v2.7h-2.7zM502.6 96.9h2.7v2.7h-2.7zM505.3 89.0h2.7v2.7h-2.7zM508.6 81.6h2.7v2.7h-2.7zM512.5 74.8h2.7v2.7h-2.7zM516.3 67.9h2.7v2.7h-2.7zM520.5 61.4h2.7v2.7h-2.7zM525.3 55.5h2.7v2.7h-2.7zM530.3 49.8h2.7v2.7h-2.7zM536.7 45.4h2.7v2.7h-2.7zM543.7 41.8h2.7v2.7h-2.7zM550.7 38.1h2.7v2.7h-2.7zM558.2 34.9h2.7v2.7h-2.7zM566.7 32.7h2.7v2.7h-2.7zM576.1 31.4h2.7v2.7h-2.7zM586.0 30.5h2.7v2.7h-2.7zM595.9 29.8h2.7v2.7h-2.7zM606.2 29.4h2.7v2.7h-2.7zM616.5 29.0h2.7v2.7h-2.7zM627.1 28.9h2.7v2.7h-2.7zM637.8 28.9h2.7v2.7h-2.7zM648.5 28.9h2.7v2.7h-2.7z" fill="#dadada" stroke="none"/>
<rect x="589" y="426" width="83.5" height="207.5" fill="#ffffff"/>
<rect x="52.7" y="0" width="631.3" height="1.75" fill="#cccccc"/>
<line x1="53.4" x2="53.4" y1="1" y2="646.9" stroke="#808080" stroke-width="1.4"/>
<line x1="683.45" x2="683.45" y1="1" y2="646.9" stroke="#808080" stroke-width="1.1"/>
<line x1="52.8" x2="683.9" y1="646.3" y2="646.3" stroke="#808080" stroke-width="1.4"/>
<g><line x1="111.4" x2="111.4" y1="646.3" y2="650.6" stroke="#333" stroke-width="1.2"/><text x="111.4" y="664.4" font-size="13.3" text-anchor="middle" fill="#111">0</text><line x1="222.8" x2="222.8" y1="646.3" y2="650.6" stroke="#333" stroke-width="1.2"/><text x="222.8" y="664.4" font-size="13.3" text-anchor="middle" fill="#111">1000</text><line x1="334.2" x2="334.2" y1="646.3" y2="650.6" stroke="#333" stroke-width="1.2"/><text x="334.2" y="664.4" font-size="13.3" text-anchor="middle" fill="#111">2000</text><line x1="445.5" x2="445.5" y1="646.3" y2="650.6" stroke="#333" stroke-width="1.2"/><text x="445.5" y="664.4" font-size="13.3" text-anchor="middle" fill="#111">3000</text><line x1="556.9" x2="556.9" y1="646.3" y2="650.6" stroke="#333" stroke-width="1.2"/><text x="556.9" y="664.4" font-size="13.3" text-anchor="middle" fill="#111">4000</text><line x1="668.3" x2="668.3" y1="646.3" y2="650.6" stroke="#333" stroke-width="1.2"/><text x="668.3" y="664.4" font-size="13.3" text-anchor="middle" fill="#111">5000</text><line x1="48.7" x2="53.4" y1="617.3" y2="617.3" stroke="#333" stroke-width="1.2"/><text x="45.4" y="622.4" font-size="13.3" text-anchor="end" fill="#111">0.00</text><line x1="48.7" x2="53.4" y1="470.5" y2="470.5" stroke="#333" stroke-width="1.2"/><text x="45.4" y="475.6" font-size="13.3" text-anchor="end" fill="#111">0.25</text><line x1="48.7" x2="53.4" y1="323.7" y2="323.7" stroke="#333" stroke-width="1.2"/><text x="45.4" y="328.8" font-size="13.3" text-anchor="end" fill="#111">0.50</text><line x1="48.7" x2="53.4" y1="176.9" y2="176.9" stroke="#333" stroke-width="1.2"/><text x="45.4" y="182.0" font-size="13.3" text-anchor="end" fill="#111">0.75</text><line x1="48.7" x2="53.4" y1="30.1" y2="30.1" stroke="#333" stroke-width="1.2"/><text x="45.4" y="35.2" font-size="13.3" text-anchor="end" fill="#111">1.00</text></g>
<text x="368.5" y="682.7" font-size="17" text-anchor="middle" fill="#111">Total working life (Days)</text>
<text transform="translate(12.4 323.9) rotate(-90)" font-size="16.7" text-anchor="middle" fill="#111">Proportion of dogs</text>
<text x="595.5" y="442.9" font-size="17" fill="#111">W.groups</text>
<rect x="595.2" y="448.4" width="20.2" height="20.08" fill="#ffffff" stroke="#cccccc" stroke-width="1"/>
<line x1="597.3" x2="613.3" y1="458.4" y2="458.4" stroke="#000000" stroke-width="2.67"/>
<text x="618.3" y="463.7" font-size="12.95" fill="#111">Fea</text>
<rect x="595.2" y="468.5" width="20.2" height="20.08" fill="#ffffff" stroke="#cccccc" stroke-width="1"/>
<line x1="597.3" x2="613.3" y1="478.5" y2="478.5" stroke="#6b6b6b" stroke-width="2.67"/>
<text x="618.3" y="483.8" font-size="12.95" fill="#111">Cha</text>
<rect x="595.2" y="488.6" width="20.2" height="20.08" fill="#ffffff" stroke="#cccccc" stroke-width="1"/>
<line x1="597.3" x2="613.3" y1="498.6" y2="498.6" stroke="#dadada" stroke-width="2.67"/>
<text x="618.3" y="503.9" font-size="12.95" fill="#111">Att</text>
<rect x="595.2" y="508.6" width="20.2" height="20.08" fill="#ffffff" stroke="#cccccc" stroke-width="1"/>
<line x1="597.3" x2="613.3" y1="518.7" y2="518.7" stroke="#000000" stroke-width="2.67" stroke-dasharray="10.7 10.7"/>
<text x="618.3" y="523.9" font-size="12.95" fill="#111">Soc</text>
<rect x="595.2" y="528.7" width="20.2" height="20.08" fill="#ffffff" stroke="#cccccc" stroke-width="1"/>
<line x1="597.3" x2="613.3" y1="538.8" y2="538.8" stroke="#6b6b6b" stroke-width="2.67" stroke-dasharray="10.7 10.7"/>
<text x="618.3" y="544.0" font-size="12.95" fill="#111">Exc</text>
<rect x="595.2" y="548.8" width="20.2" height="20.08" fill="#ffffff" stroke="#cccccc" stroke-width="1"/>
<line x1="597.3" x2="613.3" y1="558.8" y2="558.8" stroke="#dadada" stroke-width="2.67" stroke-dasharray="10.7 10.7"/>
<text x="618.3" y="564.1" font-size="12.95" fill="#111">Dis</text>
<rect x="595.2" y="568.9" width="20.2" height="20.08" fill="#ffffff" stroke="#cccccc" stroke-width="1"/>
<line x1="597.3" x2="613.3" y1="578.9" y2="578.9" stroke="#000000" stroke-width="2.67" stroke-dasharray="2.7 8"/>
<text x="618.3" y="584.2" font-size="12.95" fill="#111">Env</text>
<rect x="595.2" y="589.0" width="20.2" height="20.08" fill="#ffffff" stroke="#cccccc" stroke-width="1"/>
<line x1="597.3" x2="613.3" y1="599.0" y2="599.0" stroke="#6b6b6b" stroke-width="2.67" stroke-dasharray="2.7 8"/>
<text x="618.3" y="604.3" font-size="12.95" fill="#111">Wil</text>
<rect x="595.2" y="609.0" width="20.2" height="20.08" fill="#ffffff" stroke="#cccccc" stroke-width="1"/>
<line x1="597.3" x2="613.3" y1="619.1" y2="619.1" stroke="#dadada" stroke-width="2.67" stroke-dasharray="2.7 8"/>
<text x="618.3" y="624.3" font-size="12.95" fill="#111">Old</text>
</svg>
</body></html>
